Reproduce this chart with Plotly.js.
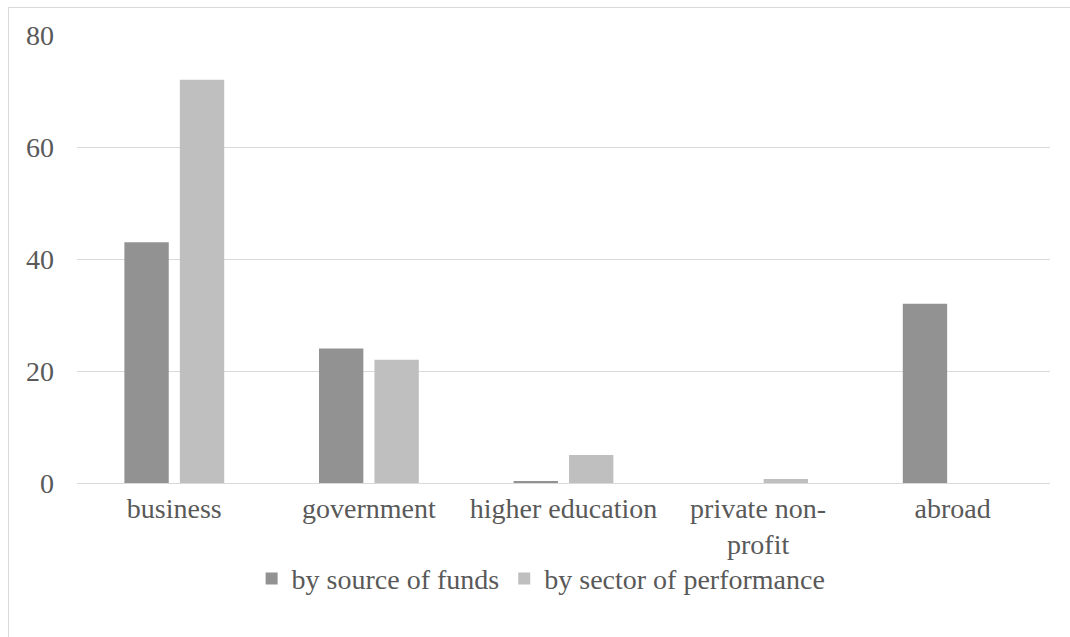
<!DOCTYPE html>
<html>
<head>
<meta charset="utf-8">
<script src="https://cdn.plot.ly/plotly-3.0.1.min.js"></script>
<style>
  html, body { margin: 0; padding: 0; background: #fff; }
  #wrap { position: relative; width: 1070px; height: 637px; overflow: hidden; }
  #frame { position: absolute; left: 8px; top: 7px; width: 1100px; height: 700px;
           border-left: 1px solid #d9d9d9; border-top: 1px solid #d9d9d9; pointer-events: none; }
  #chart { position: absolute; left: 0; top: 0; width: 1070px; height: 637px; }
</style>
</head>
<body>
<div id="wrap">
  <div id="chart"></div>
  <div id="frame"></div>
</div>
<script>
const categories = ["business", "government", "higher education", "private non-<br>profit", "abroad"];
const sourceOfFunds = [43, 24, 0.2, 0, 32];
const sectorOfPerformance = [72, 22, 5, 0.7, 0];
const seriesNames = ["by source of funds", "by sector of performance"];
const yTicks = [0, 20, 40, 60, 80];

function mkFont() { return { family: "Liberation Serif", size: 28, color: "#595959" }; }

const traces = [
  { type: "bar", x: categories, y: sourceOfFunds, name: seriesNames[0],
    marker: { color: "#929292", line: { width: 0 } }, hoverinfo: "none" },
  { type: "bar", x: categories, y: sectorOfPerformance, name: seriesNames[1],
    marker: { color: "#bfbfbf", line: { width: 0 } }, hoverinfo: "none" }
];

const layout = {
  width: 1070, height: 637,
  margin: { l: 77, r: 20, t: 35, b: 154 },
  paper_bgcolor: "rgba(0,0,0,0)", plot_bgcolor: "#fff",
  font: mkFont(),
  barmode: "group",
  bargap: 0.43,
  bargroupgap: 0.2,
  showlegend: true,
  legend: { orientation: "h", x: 0.477, xanchor: "center", y: -0.158, yanchor: "top",
            font: mkFont(), itemwidth: 30, traceorder: "normal" },
  xaxis: { type: "category", showgrid: false, showline: false, zeroline: false,
           ticks: "", tickfont: mkFont(), ticklabelstandoff: 6, fixedrange: true },
  yaxis: { range: [0, 80], tickvals: yTicks, ticktext: yTicks.map(String),
           showgrid: true, gridcolor: "#d9d9d9", gridwidth: 1,
           zeroline: true, zerolinecolor: "#d9d9d9", zerolinewidth: 1,
           showline: false, ticks: "", tickfont: mkFont(), ticklabelstandoff: 22, fixedrange: true }
};

Plotly.newPlot("chart", traces, layout, { displayModeBar: false });
</script>
</body>
</html>
